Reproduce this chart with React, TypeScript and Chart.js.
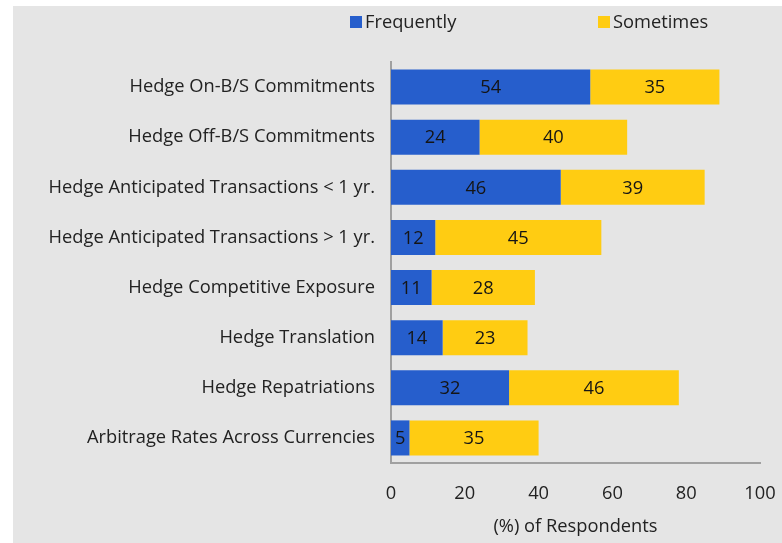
import React, { useEffect, useRef } from "react";
import { Chart, registerables } from "chart.js";

Chart.register(...registerables);

const categories = [
  "Hedge On-B/S Commitments",
  "Hedge Off-B/S Commitments",
  "Hedge Anticipated Transactions < 1 yr.",
  "Hedge Anticipated Transactions > 1 yr.",
  "Hedge Competitive Exposure",
  "Hedge Translation",
  "Hedge Repatriations",
  "Arbitrage Rates Across Currencies",
];
const frequently = [54, 24, 46, 12, 11, 14, 32, 5];
const sometimes = [35, 40, 39, 45, 28, 23, 46, 35];
const seriesNames = ["Frequently", "Sometimes"];
const xMin = 0;
const xMax = 100;
const xStep = 20;
const xTitle = "(%) of Respondents";

const BLUE = "#265ecc";
const YELLOW = "#ffcc12";
const TEXT = "#222222";
const FONT = "'Open Sans', sans-serif";
const FS = 18.3;

const valueLabels = {
  id: "valueLabels",
  afterDatasetsDraw(chart: any) {
    const ctx = chart.ctx;
    ctx.save();
    ctx.font = `${FS}px ${FONT}`;
    ctx.fillStyle = "#151515";
    ctx.textAlign = "center";
    ctx.textBaseline = "middle";
    chart.data.datasets.forEach((ds: any, i: number) => {
      const meta = chart.getDatasetMeta(i);
      meta.data.forEach((bar: any, j: number) => {
        const p = bar.getProps(["x", "base", "y"], true);
        ctx.fillText(String(ds.data[j]), (p.x + p.base) / 2, p.y + 1);
      });
    });
    ctx.restore();
  },
};

const customLegend = {
  id: "customLegend",
  afterDraw(chart: any) {
    const ctx = chart.ctx;
    const left = chart.chartArea.left;
    const items = [
      { x: left - 41, color: BLUE, text: seriesNames[0] },
      { x: left + 207, color: YELLOW, text: seriesNames[1] },
    ];
    ctx.save();
    ctx.font = `${FS}px ${FONT}`;
    ctx.textBaseline = "middle";
    ctx.textAlign = "left";
    items.forEach((it) => {
      ctx.fillStyle = it.color;
      ctx.fillRect(it.x, 16, 12, 12);
      ctx.fillStyle = TEXT;
      ctx.fillText(it.text, it.x + 15, 23);
    });
    ctx.restore();
  },
};

export default function App() {
  const ref = useRef<HTMLCanvasElement | null>(null);

  useEffect(() => {
    if (!ref.current) return;
    const chart = new Chart(ref.current, {
      type: "bar",
      data: {
        labels: categories,
        datasets: [
          {
            label: seriesNames[0],
            data: frequently,
            backgroundColor: BLUE,
            categoryPercentage: 1,
            barPercentage: 0.7,
          },
          {
            label: seriesNames[1],
            data: sometimes,
            backgroundColor: YELLOW,
            categoryPercentage: 1,
            barPercentage: 0.7,
          },
        ],
      },
      options: {
        indexAxis: "y",
        responsive: false,
        animation: false,
        layout: { padding: { left: 13, top: 62, right: 22, bottom: 0 } },
        plugins: {
          legend: { display: false },
          tooltip: { enabled: false },
        },
        scales: {
          x: {
            stacked: true,
            min: xMin,
            max: xMax,
            grid: { display: false, drawTicks: false },
            border: { display: true, color: "#a0a0a0", width: 2 },
            ticks: {
              stepSize: xStep,
              padding: 20,
              color: TEXT,
              font: { family: FONT, size: FS },
            },
            title: {
              display: true,
              text: xTitle,
              color: TEXT,
              font: { family: FONT, size: FS },
              padding: { top: 0, bottom: 5 },
            },
            afterFit(scale: any) {
              scale.height = 80;
              scale.paddingLeft = 0;
              scale.paddingRight = 0;
            },
          },
          y: {
            stacked: true,
            grid: { display: false, drawTicks: false },
            border: { display: true, color: "#a0a0a0", width: 2 },
            ticks: {
              padding: 16,
              color: TEXT,
              font: { family: FONT, size: FS },
            },
            afterFit(scale: any) {
              scale.width = 378;
              scale.paddingTop = 0;
              scale.paddingBottom = 0;
            },
          },
        },
      },
      plugins: [valueLabels, customLegend],
    });
    return () => chart.destroy();
  }, []);

  return (
    <div
      style={{
        position: "fixed",
        left: 0,
        top: 0,
        width: 782,
        height: 543,
        background: "#ffffff",
        overflow: "hidden",
      }}
    >
      <div
        style={{
          position: "absolute",
          left: 13,
          top: 6,
          width: 769,
          height: 537,
          background: "#e5e5e5",
        }}
      />
      <canvas
        ref={ref}
        width={782}
        height={543}
        style={{ position: "absolute", left: 0, top: 0, width: 782, height: 543 }}
      />
    </div>
  );
}
